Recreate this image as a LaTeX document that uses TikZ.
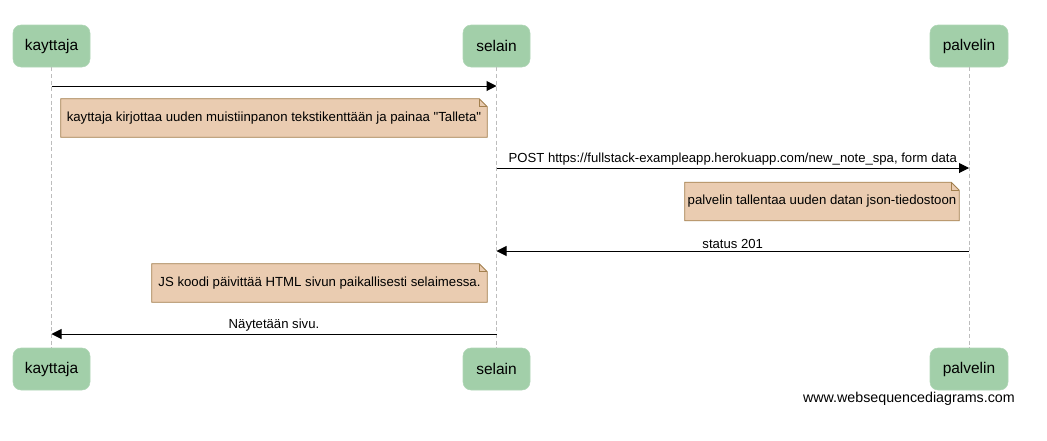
\documentclass[tikz,border=0pt]{standalone}
\usepackage{fontspec}
\setmainfont{Liberation Sans}
\usepackage{tikz}
\usetikzlibrary{arrows.meta,positioning}
\definecolor{actorgreen}{HTML}{A2CFA9}
\definecolor{notefill}{HTML}{EACCB1}
\definecolor{noteline}{HTML}{A3804E}
\definecolor{lifegray}{HTML}{BDBDBD}

\begin{document}
\begin{tikzpicture}[x=0.75pt, y=-0.75pt, >={Triangle[length=7.5pt, width=7.5pt]},
  actor/.style={fill=actorgreen, draw=actorgreen!85!white, rounded corners=6pt, minimum height=31.5pt, inner sep=0pt, font=\fontsize{11.6}{13}\selectfont},
  notebox/.style={minimum height=28.5pt, inner sep=0pt, font=\fontsize{9.9}{11}\selectfont},
  fold/.style={draw=noteline, fill=notefill, line width=0.6pt},
  msg/.style={->, line width=0.75pt},
  lbl/.style={midway, above, inner sep=1.5pt, font=\fontsize{9.85}{11}\selectfont},
  life/.style={draw=lifegray, dashed, dash pattern=on 3pt off 2pt, line width=0.6pt}]
  \useasboundingbox (0,0) rectangle (1047,440);
  % actors, top and bottom
  \node[actor, minimum width=57.75pt] (kt)  at (51.5,46)  {kayttaja};
  \node[actor, minimum width=50.25pt] (se)  at (496.5,46) {selain};
  \node[actor, minimum width=58.5pt]  (pa)  at (969,46)   {palvelin};
  \node[actor, minimum width=57.75pt] (kt2) at (51.5,369)  {kayttaja};
  \node[actor, minimum width=50.25pt] (se2) at (496.5,369) {selain};
  \node[actor, minimum width=58.5pt]  (pa2) at (969,369)   {palvelin};
  \draw[life] (kt) -- (kt2);
  \draw[life] (se) -- (se2);
  \draw[life] (pa) -- (pa2);
  % message rows
  \coordinate (m1a) at (51.5,86);   \coordinate (m1b) at (496.5,86);
  \coordinate (m2a) at (496.5,168); \coordinate (m2b) at (969,168);
  \coordinate (m3a) at (969,251);   \coordinate (m3b) at (496.5,251);
  \coordinate (m4a) at (496.5,334); \coordinate (m4b) at (51.5,334);
  \draw[msg] (m1a) -- (m1b);
  \draw[msg] (m2a) -- (m2b) node[lbl] {POST https://fullstack-exampleapp.herokuapp.com/new\_note\_spa, form data};
  \draw[msg] (m3a) -- (m3b) node[lbl] {status 201};
  \draw[msg] (m4a) -- (m4b) node[lbl] {Näytetään sivu.};
  % notes
  \node[notebox, minimum width=319.5pt] (n1) at (274,118) {};
  \node[notebox, minimum width=205.5pt] (n2) at (822,201.5) {};
  \node[notebox, minimum width=251.25pt] (n3) at (319.5,283) {};
  \foreach \n in {n1,n2,n3} {
    \draw[fold] (\n.south west) -- (\n.north west) -- ([xshift=-6pt]\n.north east)
      -- ([yshift=-6pt]\n.north east) -- (\n.south east) -- cycle;
    \draw[draw=noteline, line width=0.6pt] ([xshift=-6pt]\n.north east) -- ([xshift=-6pt, yshift=-6pt]\n.north east)
      -- ([yshift=-6pt]\n.north east);
  }
  \node[notebox] at (n1) {kayttaja kirjottaa uuden muistiinpanon tekstikenttään ja painaa \textquotedbl Talleta\textquotedbl};
  \node[notebox] at (n2) {palvelin tallentaa uuden datan json-tiedostoon};
  \node[notebox] at (n3) {JS koodi päivittää HTML sivun paikallisesti selaimessa.};
  % watermark
  \node[anchor=east, inner sep=0pt, font=\fontsize{10.7}{12}\selectfont] (wsd) at (1015,399) {www.websequencediagrams.com};
\end{tikzpicture}
\end{document}
